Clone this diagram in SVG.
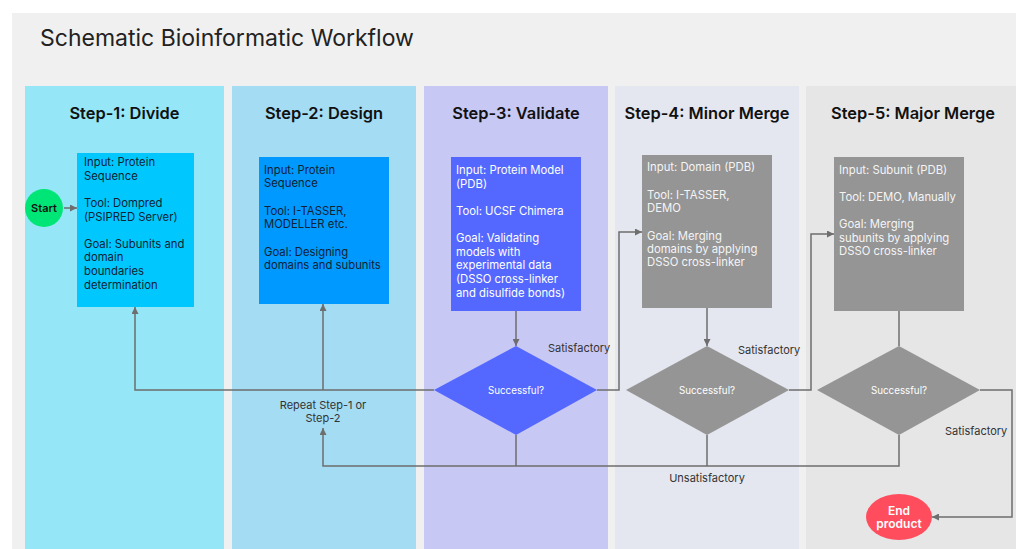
<svg xmlns="http://www.w3.org/2000/svg" width="1016" height="549" viewBox="0 0 1016 549">
<style>
text{font-family:Inter,"Noto Sans","Liberation Sans",sans-serif}
.hdr{font-size:16.4px;font-weight:600;fill:#111;text-anchor:middle}
.bt{font-size:11.3px;fill:#123}
.wt{font-size:11.3px;fill:#fff}
.gt{font-size:11.3px;fill:#f4f4f4}
.dt{font-size:9.8px;fill:#fff;text-anchor:middle}
.lbl{font-size:11px;fill:#333}
.con{fill:none;stroke:#6e6e6e;stroke-width:1.5}
</style>
<defs>
<marker id="ah" viewBox="0 0 10 10" refX="10" refY="5" markerWidth="7" markerHeight="7" markerUnits="userSpaceOnUse" orient="auto">
<path d="M0,0 L10,5 L0,10 z" fill="#6e6e6e"/>
</marker>
</defs>
<rect x="0" y="0" width="1016" height="549" fill="#fff"/>
<rect x="12" y="13" width="1004" height="536" fill="#f0f0f0"/>
<text x="40" y="46" style="font-size:23px;fill:#222">Schematic Bioinformatic Workflow</text>

<g id="lane1"><rect x="25" y="86" width="199" height="463" fill="#95e6f6"/><text class="hdr" x="124.5" y="119">Step-1: Divide</text></g>
<g id="lane2"><rect x="232" y="86" width="184" height="463" fill="#a3dcf3"/><text class="hdr" x="324" y="119">Step-2: Design</text></g>
<g id="lane3"><rect x="424" y="86" width="184" height="463" fill="#c8c8f5"/><text class="hdr" x="516" y="119">Step-3: Validate</text></g>
<g id="lane4"><rect x="615" y="86" width="184" height="463" fill="#e4e7f0"/><text class="hdr" x="707" y="119">Step-4: Minor Merge</text></g>
<g id="lane5"><rect x="806" y="86" width="210" height="463" fill="#e6e6e6"/><text class="hdr" x="913" y="119">Step-5: Major Merge</text></g>

<g id="connectors">
<line class="con" x1="64" y1="208" x2="77" y2="208" marker-end="url(#ah)"/>
<line class="con" x1="516" y1="311" x2="516" y2="346" marker-end="url(#ah)"/>
<line class="con" x1="707" y1="308" x2="707" y2="346" marker-end="url(#ah)"/>
<line class="con" x1="899" y1="311" x2="899" y2="346"/>
<polyline class="con" points="434,390 135,390 135,307" marker-end="url(#ah)"/>
<line class="con" x1="323" y1="390" x2="323" y2="304" marker-end="url(#ah)"/>
<polyline class="con" points="597,390 619,390 619,232 642,232" marker-end="url(#ah)"/>
<polyline class="con" points="789,390 811,390 811,234 834,234" marker-end="url(#ah)"/>
<polyline class="con" points="980,390 1012,390 1012,517 932,517" marker-end="url(#ah)"/>
<line class="con" x1="516" y1="435" x2="516" y2="466"/>
<line class="con" x1="707" y1="435" x2="707" y2="466"/>
<polyline class="con" points="899,435 899,466 323,466 323,428" marker-end="url(#ah)"/>
<text class="lbl" x="548" y="352">Satisfactory</text>
<text class="lbl" x="738" y="354">Satisfactory</text>
<text class="lbl" x="945" y="435">Satisfactory</text>
<text class="lbl" x="707" y="482" text-anchor="middle">Unsatisfactory</text>
<text class="lbl" x="323" y="409" text-anchor="middle">Repeat Step-1 or</text>
<text class="lbl" x="323" y="422" text-anchor="middle">Step-2</text>
</g>

<g id="start"><circle cx="44" cy="208" r="19" fill="#00e676"/><text x="44" y="212" style="font-size:11px;font-weight:600;fill:#111" text-anchor="middle">Start</text></g>

<g id="box1"><rect x="77" y="153" width="117" height="154" fill="#00c8ff"/>
<text class="bt"><tspan x="84" y="166">Input: Protein</tspan><tspan x="84" y="180">Sequence</tspan><tspan x="84" y="207">Tool: Dompred</tspan><tspan x="84" y="221">(PSIPRED Server)</tspan><tspan x="84" y="248">Goal: Subunits and</tspan><tspan x="84" y="261">domain</tspan><tspan x="84" y="275">boundaries</tspan><tspan x="84" y="289">determination</tspan></text></g>

<g id="box2"><rect x="259" y="157" width="130" height="147" fill="#0099ff"/>
<text class="bt"><tspan x="264" y="174">Input: Protein</tspan><tspan x="264" y="187">Sequence</tspan><tspan x="264" y="215">Tool: I-TASSER,</tspan><tspan x="264" y="228">MODELLER etc.</tspan><tspan x="264" y="256">Goal: Designing</tspan><tspan x="264" y="269">domains and subunits</tspan></text></g>

<g id="box3"><rect x="451" y="157" width="130" height="154" fill="#5468ff"/>
<text class="wt"><tspan x="456" y="174">Input: Protein Model</tspan><tspan x="456" y="188">(PDB)</tspan><tspan x="456" y="215">Tool: UCSF Chimera</tspan><tspan x="456" y="242">Goal: Validating</tspan><tspan x="456" y="256">models with</tspan><tspan x="456" y="269">experimental data</tspan><tspan x="456" y="283">(DSSO cross-linker</tspan><tspan x="456" y="297">and disulfide bonds)</tspan></text></g>

<g id="box4"><rect x="642" y="155" width="130" height="153" fill="#959595"/>
<text class="gt"><tspan x="647" y="171">Input: Domain (PDB)</tspan><tspan x="647" y="199">Tool: I-TASSER,</tspan><tspan x="647" y="212">DEMO</tspan><tspan x="647" y="240">Goal: Merging</tspan><tspan x="647" y="253">domains by applying</tspan><tspan x="647" y="266">DSSO cross-linker</tspan></text></g>

<g id="box5"><rect x="834" y="157" width="130" height="154" fill="#959595"/>
<text class="gt"><tspan x="839" y="174">Input: Subunit (PDB)</tspan><tspan x="839" y="201">Tool: DEMO, Manually</tspan><tspan x="839" y="228">Goal: Merging</tspan><tspan x="839" y="242">subunits by applying</tspan><tspan x="839" y="255">DSSO cross-linker</tspan></text></g>

<g id="dec3"><polygon points="516,346 597,390 516,435 434,390" fill="#5468ff"/><text class="dt" x="516" y="394">Successful?</text></g>
<g id="dec4"><polygon points="707,346 789,390 707,435 626,390" fill="#959595"/><text class="dt" x="707" y="394">Successful?</text></g>
<g id="dec5"><polygon points="899,346 980,390 899,435 817,390" fill="#959595"/><text class="dt" x="899" y="394">Successful?</text></g>

<g id="end"><ellipse cx="899" cy="517" rx="33" ry="23" fill="#ff4d5e"/><text x="899" y="515" style="font-size:12px;font-weight:600;fill:#fff" text-anchor="middle">End</text><text x="899" y="528" style="font-size:12px;font-weight:600;fill:#fff" text-anchor="middle">product</text></g>
</svg>
